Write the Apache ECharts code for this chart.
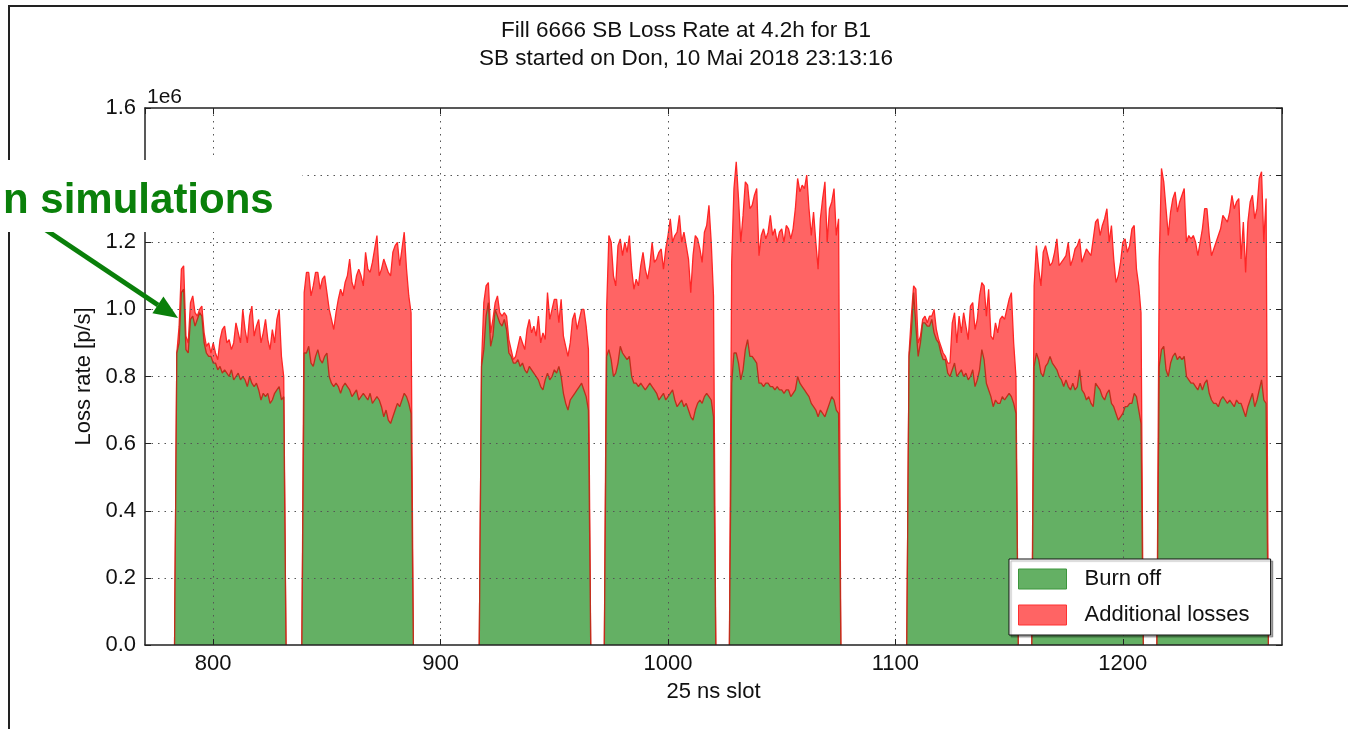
<!DOCTYPE html>
<html>
<head>
<meta charset="utf-8">
<title>Fill 6666 SB Loss Rate</title>
<script src="https://cdn.jsdelivr.net/npm/echarts@6.0.0/dist/echarts.min.js"></script>
<style>
  html, body { margin: 0; padding: 0; background: #fff; }
  #chart { width: 1348px; height: 729px; }
</style>
</head>
<body>
<div id="chart"></div>
<script>
// Loss rates per filled 25 ns slot, in units of 1e6 p/s.
// Each train holds 48 consecutive bunches starting at the given slot.
const trainStarts = [784, 840, 918, 973, 1028, 1106, 1161, 1216];

// Burn-off contribution (luminosity burn-off) per bunch
const burn1 = [.87,.9,1.05,1.06,.88,.87,.97,.98,.95,.97,.99,.98,.9,.87,.86,.86,.84,.84,.82,.83,.81,.82,.81,.8,.82,.79,.8,.81,.79,.8,.79,.77,.8,.78,.77,.78,.76,.73,.75,.74,.75,.72,.73,.75,.76,.77,.73,.74];
const burn2 = [.87,.87,.89,.84,.83,.86,.88,.85,.84,.86,.87,.8,.78,.77,.78,.77,.75,.77,.78,.77,.76,.74,.75,.76,.73,.74,.75,.74,.73,.75,.72,.73,.74,.73,.71,.68,.7,.67,.66,.68,.7,.72,.71,.73,.75,.74,.72,.69];
const burn3 = [.83,.88,.98,1.02,.89,.92,1.0,.98,.96,.95,.97,.94,.87,.86,.84,.84,.85,.83,.84,.82,.81,.83,.82,.81,.8,.79,.77,.76,.79,.81,.79,.8,.82,.81,.83,.8,.75,.72,.7,.73,.74,.75,.76,.77,.78,.76,.74,.7];
const burn4 = [.86,.88,.85,.8,.81,.84,.89,.87,.86,.85,.86,.8,.78,.78,.77,.78,.77,.76,.77,.78,.77,.76,.75,.73,.74,.75,.73,.74,.75,.76,.73,.71,.72,.73,.71,.72,.7,.68,.67,.7,.72,.73,.72,.74,.75,.74,.73,.68];
const burn5 = [.78,.87,.87,.84,.79,.82,.88,.91,.86,.86,.85,.84,.78,.78,.77,.78,.78,.77,.77,.76,.77,.76,.76,.75,.76,.76,.74,.75,.76,.8,.78,.77,.76,.75,.74,.72,.71,.7,.68,.7,.69,.68,.7,.72,.74,.73,.7,.69];
const burn6 = [.86,.93,1.05,.95,.86,.9,.96,.96,.95,.95,.97,.93,.91,.9,.87,.85,.85,.81,.8,.82,.84,.8,.81,.82,.8,.81,.79,.8,.82,.77,.79,.82,.88,.85,.78,.76,.74,.71,.73,.72,.72,.74,.73,.74,.75,.74,.72,.69];
const burn7 = [.83,.87,.85,.81,.8,.83,.84,.86,.84,.83,.82,.8,.79,.77,.79,.77,.76,.78,.76,.77,.82,.76,.75,.73,.74,.72,.71,.78,.77,.76,.74,.73,.75,.76,.72,.71,.69,.67,.68,.69,.71,.71,.72,.72,.75,.74,.7,.66];
const burn8 = [.83,.88,.89,.82,.8,.84,.86,.87,.85,.86,.85,.86,.8,.79,.78,.78,.77,.76,.78,.76,.78,.79,.75,.73,.72,.72,.71,.73,.74,.73,.72,.73,.72,.71,.73,.72,.72,.7,.68,.71,.73,.75,.71,.73,.76,.79,.73,.72];

// Total measured loss rate per bunch
const total1 = [.87,.95,1.12,1.13,.92,.9,1.02,1.04,.99,.98,1.0,1.01,.93,.89,.9,.87,.9,.87,.85,.91,.94,.95,.9,.91,.88,.9,.96,.93,.9,1.0,.94,.9,.98,1.01,.92,.95,.97,.9,.93,.97,.91,.88,.94,.9,.97,1.0,.86,.8];
const total2 = [1.05,1.11,1.11,1.04,1.07,1.11,1.11,1.06,1.09,1.1,1.05,1.0,.97,.94,.99,1.03,1.06,1.04,1.08,1.1,1.15,1.08,1.06,1.1,1.12,1.1,1.07,1.17,1.12,1.11,1.14,1.18,1.22,1.1,1.12,1.15,1.13,1.11,1.1,1.17,1.19,1.2,1.13,1.18,1.23,1.12,1.04,.99];
const total3 = [.84,1.02,1.07,1.08,.93,.97,1.02,1.04,.99,.98,.99,.98,.91,.88,.85,.86,.89,.92,.9,.88,.94,.97,.93,.95,.92,.98,.9,.93,.91,1.05,.97,1.0,1.03,1.03,.96,1.03,.92,.89,.86,.9,.97,.99,.94,.97,1.0,1.0,.95,.88];
const total4 = [1.0,1.22,1.2,1.1,1.07,1.19,1.21,1.16,1.2,1.17,1.22,1.12,1.06,1.09,1.07,1.13,1.17,1.12,1.09,1.13,1.2,1.14,1.15,1.17,1.18,1.12,1.18,1.22,1.27,1.2,1.22,1.23,1.28,1.2,1.23,1.19,1.15,1.05,1.16,1.22,1.21,1.18,1.14,1.23,1.25,1.31,1.2,1.04];
const total5 = [1.14,1.36,1.44,1.33,1.2,1.28,1.38,1.37,1.3,1.31,1.34,1.36,1.16,1.22,1.24,1.21,1.23,1.28,1.22,1.24,1.2,1.23,1.24,1.2,1.25,1.24,1.21,1.24,1.3,1.39,1.35,1.37,1.36,1.4,1.3,1.22,1.29,1.2,1.12,1.27,1.33,1.38,1.2,1.3,1.32,1.36,1.22,1.27];
const total6 = [.87,.98,1.07,1.06,.9,.92,.97,.98,.96,.98,.98,1.0,.94,.91,.89,.87,.86,.84,.84,.96,.99,.9,.98,.93,.99,.95,.91,1.01,1.02,.94,.97,1.04,1.08,1.07,.98,1.06,.92,.91,.96,.93,.97,.98,.97,1.0,1.03,1.05,.9,.8];
const total7 = [1.07,1.19,1.12,1.07,1.17,1.19,1.16,1.13,1.14,1.17,1.21,1.13,1.14,1.15,1.16,1.2,1.13,1.15,1.18,1.19,1.21,1.14,1.16,1.18,1.17,1.16,1.21,1.26,1.27,1.22,1.25,1.27,1.3,1.2,1.25,1.15,1.08,1.1,1.14,1.2,1.21,1.17,1.19,1.24,1.25,1.12,1.07,.99];
const total8 = [1.14,1.42,1.38,1.3,1.22,1.29,1.33,1.35,1.29,1.32,1.34,1.36,1.2,1.22,1.21,1.22,1.2,1.16,1.2,1.24,1.3,1.3,1.22,1.16,1.18,1.2,1.22,1.24,1.28,1.27,1.26,1.29,1.34,1.3,1.32,1.33,1.15,1.26,1.11,1.26,1.32,1.34,1.27,1.3,1.39,1.41,1.2,1.33];

const yTicks = [0, 0.2, 0.4, 0.6, 0.8, 1.0, 1.2, 1.4, 1.6];

const burnTrains = [burn1, burn2, burn3, burn4, burn5, burn6, burn7, burn8];
const totalTrains = [total1, total2, total3, total4, total5, total6, total7, total8];

// Additional losses = total - burn off; drawn stacked on top of burn off.
const additionalTrains = totalTrains.map(function (tot, k) {
  return tot.map(function (v, i) { return +(v - burnTrains[k][i]).toFixed(4); });
});

// Sum the given layers per slot; each train is framed by empty slots
// (zero rate) and separated from the next one by a break.
function trainSeries(layers) {
  const pts = [];
  trainStarts.forEach(function (start, k) {
    const n = layers[0][k].length;
    pts.push([start - 1, 0]);
    for (let i = 0; i < n; i++) {
      let v = 0;
      layers.forEach(function (arr) { v += arr[k][i]; });
      pts.push([start + i, +v.toFixed(4)]);
    }
    pts.push([start + n, 0]);
    pts.push('-');
  });
  return pts;
}

const FONT = '"Liberation Sans", Arial, Helvetica, sans-serif';
const GREEN = '#64b064';
const RED = '#ff6464';
const gridLine = { show: true, lineStyle: { color: '#555', width: 1, type: [1.5, 5] } };
const frameLine = { show: true, onZero: false, lineStyle: { color: '#222', width: 1.5 } };
const innerTick = { show: true, inside: true, length: 6, lineStyle: { color: '#222', width: 1 } };

const chart = echarts.init(document.getElementById('chart'), null, { renderer: 'canvas' });
chart.setOption({
  animation: false,
  backgroundColor: '#fff',
  title: {
    text: 'Fill 6666 SB Loss Rate at 4.2h for B1\nSB started on Don, 10 Mai 2018 23:13:16',
    left: 686, top: 16.5, padding: 0, textAlign: 'center',
    textStyle: { fontFamily: FONT, fontSize: 22.5, fontWeight: 'normal', color: '#111', lineHeight: 28 }
  },
  grid: { left: 145, top: 108, width: 1137, height: 537 },
  xAxis: [{
    type: 'value', min: 770, max: 1270, splitNumber: 5, z: 10,
    name: '25 ns slot', nameLocation: 'middle', nameGap: 36,
    nameTextStyle: { fontFamily: FONT, fontSize: 22, color: '#111' },
    axisLine: frameLine, axisTick: innerTick,
    axisLabel: {
      fontFamily: FONT, fontSize: 22, color: '#111', margin: 8,
      showMinLabel: false, showMaxLabel: false,
      formatter: function (v) { return String(v); }
    },
    splitLine: Object.assign({ showMinLine: false, showMaxLine: false }, gridLine)
  }, {
    type: 'value', position: 'top', min: 770, max: 1270, splitNumber: 5, z: 10,
    axisLine: frameLine, axisTick: innerTick, axisLabel: { show: false }, splitLine: { show: false }
  }],
  yAxis: [{
    type: 'value', min: yTicks[0], max: yTicks[yTicks.length - 1], interval: 0.2, z: 10,
    name: 'Loss rate [p/s]', nameLocation: 'middle', nameGap: 49,
    nameTextStyle: { fontFamily: FONT, fontSize: 22, color: '#111' },
    axisLine: frameLine, axisTick: innerTick,
    axisLabel: { fontFamily: FONT, fontSize: 22, color: '#111', margin: 9, formatter: function (v) { return v.toFixed(1); } },
    splitLine: Object.assign({ showMinLine: false, showMaxLine: false }, gridLine)
  }, {
    type: 'value', position: 'right', min: 0, max: 1.6, interval: 0.2, z: 10,
    axisLine: frameLine, axisTick: innerTick, axisLabel: { show: false }, splitLine: { show: false }
  }],
  legend: {
    orient: 'vertical', left: 1009, top: 559,
    padding: [9, 21, 9, 9], itemWidth: 48, itemHeight: 20, itemGap: 14,
    backgroundColor: '#fff', borderColor: '#111', borderWidth: 1, borderRadius: 0,
    shadowColor: 'rgba(0,0,0,0.3)', shadowOffsetX: 2, shadowOffsetY: 2, shadowBlur: 1,
    selectedMode: false, z: 20,
    textStyle: { fontFamily: FONT, fontSize: 22, color: '#111', padding: [0, 0, 0, 13] },
    data: [
      { name: 'Burn off', icon: 'rect', itemStyle: { color: GREEN, borderColor: '#3c963c', borderWidth: 1 } },
      { name: 'Additional losses', icon: 'rect', itemStyle: { color: RED, borderColor: '#ff3030', borderWidth: 1 } }
    ]
  },
  series: [{
    name: 'Additional losses', type: 'line', z: 2,
    data: trainSeries([burnTrains, additionalTrains]),
    symbol: 'none', connectNulls: false,
    lineStyle: { color: '#ff2626', width: 1.3 },
    itemStyle: { color: RED },
    areaStyle: { color: RED, opacity: 1 }
  }, {
    name: 'Burn off', type: 'line', z: 3,
    data: trainSeries([burnTrains]),
    symbol: 'none', connectNulls: false,
    lineStyle: { color: '#be2f1c', width: 1.3 },
    itemStyle: { color: GREEN },
    areaStyle: { color: GREEN, opacity: 1 }
  }],
  graphic: [
    // figure frame
    { type: 'rect', z: 50, shape: { x: 8, y: 5, width: 1340, height: 2 }, style: { fill: '#222' } },
    { type: 'rect', z: 50, shape: { x: 8, y: 5, width: 2, height: 724 }, style: { fill: '#222' } },
    // axis multiplier
    { type: 'text', z: 50, x: 147, y: 97, style: { text: '1e6', fontFamily: FONT, fontSize: 21, fill: '#111', verticalAlign: 'middle' } },
    // callout arrow
    { type: 'line', z: 60, shape: { x1: 40, y1: 226, x2: 158, y2: 305 }, style: { stroke: '#0a7f0a', lineWidth: 5 } },
    { type: 'polygon', z: 60, shape: { points: [[178, 318], [152.4, 313.3], [163.4, 296.5]] }, style: { fill: '#0a7f0a' } },
    // callout label
    { type: 'rect', z: 70, shape: { x: 0, y: 160, width: 302, height: 72 }, style: { fill: '#fff' } },
    { type: 'text', z: 80, x: 3, y: 201, style: { text: 'n simulations', fontFamily: FONT, fontSize: 42, fontWeight: 'bold', fill: '#0a800a', verticalAlign: 'middle' } }
  ]
});
</script>
</body>
</html>
